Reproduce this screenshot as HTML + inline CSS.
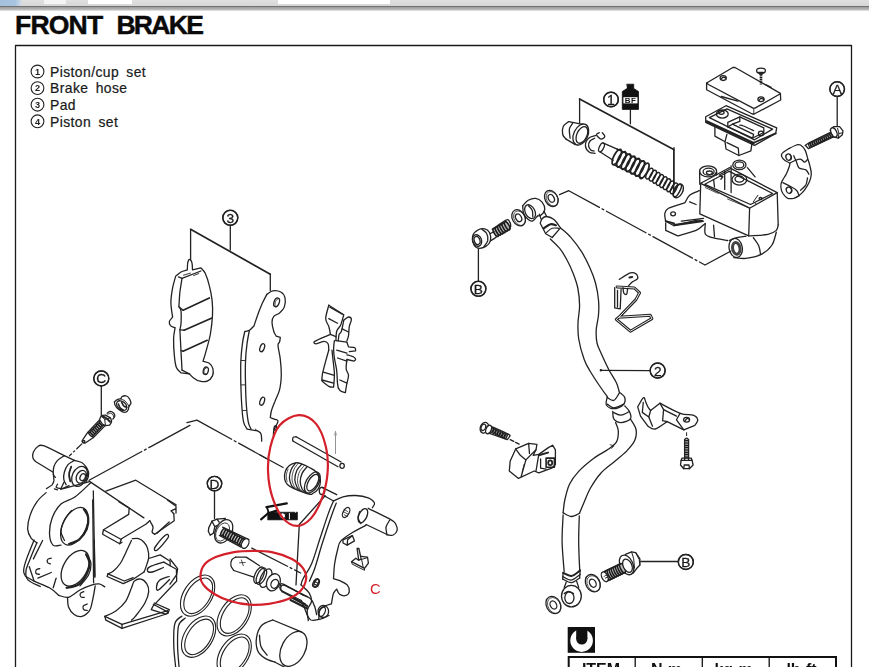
<!DOCTYPE html>
<html lang="en"><head><meta charset="utf-8"><title>FRONT BRAKE</title>
<style>
html,body{margin:0;padding:0;background:#fff;}
body{width:869px;height:667px;overflow:hidden;position:relative;font-family:"Liberation Sans",Arial,sans-serif;color:#111;}
#bar{position:absolute;left:0;top:0;width:869px;height:6px;background:linear-gradient(#e0e0e0,#d6d6d6);}
#bar i{position:absolute;top:0;height:4px;background:#f4f4f4;display:block}
#shadow{position:absolute;left:0;top:5.6px;width:869px;height:5.4px;background:linear-gradient(#6c6c6c 0,#757575 14%,#a0a0a0 30%,#b2b2b2 62%,#cdcdcd 86%,#fff 100%);}
#title{position:absolute;left:15px;top:10.2px;font-weight:bold;font-size:26.6px;line-height:30px;letter-spacing:-0.85px;word-spacing:7.5px;color:#0a0a0a;-webkit-text-stroke:0.45px #0a0a0a;white-space:nowrap;transform-origin:0 0;}
#title span{letter-spacing:-1.75px}
#legend{position:absolute;left:50px;top:63.8px;font-size:13.9px;line-height:16.6px;letter-spacing:0.42px;word-spacing:3px;color:#1a1a1a;white-space:nowrap;-webkit-text-stroke:0.22px #1a1a1a;}
#legend div{height:16.6px}
svg{position:absolute;left:0;top:0;filter:blur(0.3px);}
svg text{font-family:"Liberation Sans",Arial,sans-serif;}
</style></head><body>
<div id="bar"><i style="left:0;width:22px;height:6px;background:linear-gradient(90deg,#a5c0dc 0,#a9c4df 70%,#d5dde6 100%)"></i><i style="left:44px;width:22px"></i><i style="left:88px;width:44px;background:#fff"></i><i style="left:278px;width:112px;background:#fff"></i></div>
<div id="shadow"></div>
<div id="title">FRONT <span>BRAKE</span></div>
<div id="legend"><div>Piston/cup set</div><div>Brake hose</div><div>Pad</div><div>Piston set</div></div>
<svg width="869" height="667" viewBox="0 0 869 667" fill="none" stroke="#222" stroke-width="1.3" stroke-linecap="round" stroke-linejoin="round">
<!-- 00_frame.py -->
<path d="M15.5 667L15.5 45.5L851.5 45.5L851.5 667" stroke-width="1.3" stroke="#1a1a1a"/>
<circle cx="37.5" cy="71.5" r="6.4" stroke-width="1.1"/>
<text x="37.5" y="74.8" font-size="9.2" text-anchor="middle" font-weight="bold" fill="#222" stroke="none">1</text>
<circle cx="37.5" cy="88.1" r="6.4" stroke-width="1.1"/>
<text x="37.5" y="91.4" font-size="9.2" text-anchor="middle" font-weight="bold" fill="#222" stroke="none">2</text>
<circle cx="37.5" cy="104.7" r="6.4" stroke-width="1.1"/>
<text x="37.5" y="108" font-size="9.2" text-anchor="middle" font-weight="bold" fill="#222" stroke="none">3</text>
<circle cx="37.5" cy="121.3" r="6.4" stroke-width="1.1"/>
<text x="37.5" y="124.6" font-size="9.2" text-anchor="middle" font-weight="bold" fill="#222" stroke="none">4</text>
<!-- 10_pads.py -->
<circle cx="230.3" cy="217.8" r="7.6" fill="#fff"/>
<text x="230.3" y="222.7" font-size="13.7" text-anchor="middle" fill="#1a1a1a" stroke="#1a1a1a" stroke-width="0.3">3</text>
<circle cx="230.3" cy="217.8" r="7.4"/>
<path d="M230.3 225.5L230.3 250.1"/>
<path d="M190.6 259.6L190.6 229.3M270.3 274.2L270.3 290.6"/>
<path d="M190.6 229.3L270.3 274.2" stroke-width="1.7"/>
<path d="M175.7 276.2C176.6 275.5 179.1 273.1 181 272C182.9 271 186.2 270.3 187.3 269.9C187.4 268.8 187.4 264.8 187.7 263C188.1 261.3 188.7 259.5 189.4 259.4C190.1 259.4 191.4 260.8 191.9 262.6C192.4 264.3 192.4 268.7 192.5 269.9L200.9 267.8C201.6 268.7 203.7 270.1 205.1 273.1C206.5 276.1 208.2 281.1 209.3 285.7C210.5 290.2 211.5 295.5 212.1 300.4C212.6 305.3 212.8 309.5 212.5 315.1C212.2 320.7 211.4 328 210.4 334C209.3 339.9 207.4 346.2 206.2 350.7C205 355.3 203.6 359.5 203 361.2C204.1 361.6 207.7 362.1 209.3 363.3C211 364.6 212.4 366.5 212.9 368.6C213.4 370.7 213.4 373.8 212.5 375.9C211.5 378 209.3 380.3 207.2 381.2C205.1 382.1 202.2 381.7 199.9 381.2C197.6 380.7 195.3 379.3 193.6 378C191.8 376.8 190.1 374.5 189.4 373.8L181 372.8C180.2 371.9 177.5 370.5 176.4 367.5C175.3 364.6 174.7 359.8 174.3 354.9C173.8 350 173.5 342.7 173.6 338.2C173.8 333.6 174.9 329.4 175.1 327.7C174.3 327.3 171.4 326.6 170.5 325.6C169.6 324.5 169.1 322.8 169.4 321.4C169.8 320 172.1 317.9 172.6 317.2C172.3 314.7 170.9 307.4 170.9 302.5C170.9 297.6 171.8 292.2 172.6 287.8C173.4 283.4 175.2 278.2 175.7 276.2"/>
<path d="M182 278.3C181.7 280.6 180.5 287.3 179.9 292C179.4 296.7 179.1 304.2 178.9 306.7C179.2 307.4 180.6 308.1 181 310.9C181.3 313.7 181.2 320.3 181 323.5C180.8 326.6 180.1 328.7 179.9 329.8C180.1 333.3 180.6 344 181 350.7C181.3 357.5 181.9 366.8 182 370.1"/>
<path d="M182 278.3L200.9 271"/>
<path d="M178.5 276.9L182 278.3"/>
<path d="M183.5 275.2L190.4 273.1M193.6 275.6L198.8 273.5" stroke-width="0.9"/>
<path d="M183.1 310.2L209.3 297.9" stroke-width="1.7"/>
<path d="M184.1 330.2L211.4 318.2" stroke-width="1.7"/>
<path d="M183.1 351.2L207.2 340.3" stroke-width="1.7"/>
<path d="M178.9 306.7L183.1 310.2M179.9 329.8L184.1 330.2M181 350.7L183.1 351.2"/>
<path d="M182 370.1L189.4 373.8"/>
<ellipse cx="205.8" cy="370.7" rx="2.5" ry="3.8" transform="rotate(15 205.8 370.7)"/>
<path d="M207.2 367.5C206.8 367.8 205 368.3 204.5 369.2C204 370.1 203.7 371.9 204.1 372.8C204.4 373.6 206.2 374 206.6 374.3" stroke-width="0.9"/>
<path d="M266.9 294.3C267.8 293.7 270.3 291.2 272.7 290.8C275 290.4 278.7 290.8 280.8 292C282.9 293.1 284.4 295.3 285 297.8C285.6 300.3 285.2 304.6 284.3 307.1C283.4 309.6 281.4 311.3 279.6 312.9C277.9 314.4 275.1 314.8 273.8 316.4C272.6 317.9 272 319.7 272 322.2C272 324.7 273.1 329.2 273.8 331.5C274.5 333.8 275.8 335.3 276.2 336.1L280.3 337.3C280.2 338.1 280 340.6 279.6 341.9C279.3 343.3 277.9 342.5 278 345.4C278.1 348.3 279.8 354.3 280.3 359.4C280.9 364.4 281.4 370.6 281.3 375.6C281.1 380.7 280.7 385.3 279.6 389.6C278.6 393.8 276.3 397.7 275 401.2C273.6 404.7 272.3 407.8 271.5 410.5C270.7 413.2 270.5 416.3 270.3 417.5C271.1 417.8 273.7 418.7 275 419.3C276.3 419.9 277.8 419.9 278 420.9C278.2 422 276.9 424 276.2 425.6C275.5 427.1 274.3 428.3 273.8 430.2C273.4 432.2 273.4 436 273.4 437.2"/>
<path d="M266.9 294.3C266.1 295.8 263.8 300.1 262.2 303.6C260.7 307.1 258.9 311.5 257.6 315.2C256.2 318.9 254.7 323.9 254.1 325.7C253.3 326.4 251 329.3 249.4 330.3C247.9 331.3 245.6 331.3 244.8 331.5C244.4 333.4 243.1 338.1 242.5 343.1C241.8 348.1 241.1 355.1 240.8 361.7C240.6 368.3 240.7 375.2 240.8 382.6C241 390 241.3 399.3 241.8 405.8C242.2 412.4 242.7 418.2 243.6 422.1C244.5 426 246.5 427.9 247.1 429.1L257.6 430.9C258.1 431.4 260.4 432 261 433.7C261.7 435.4 261.6 439.9 261.7 441.2"/>
<path d="M249.4 330.3C249 332.4 247.8 337.9 247.1 343.1C246.4 348.3 245.7 355.1 245.5 361.7C245.2 368.3 245.3 375.2 245.5 382.6C245.6 390 245.9 399.3 246.4 405.8C246.9 412.4 247.5 418.2 248.3 422.1C249 426 250.6 427.9 251.1 429.1"/>
<path d="M241.3 360.5L245.5 360.5M241.3 384.9L245.5 384.9M242.5 410.5L246.4 410.5" stroke-width="0.9"/>
<ellipse cx="276.6" cy="302.4" rx="2.6" ry="4.6" transform="rotate(20 276.6 302.4)"/>
<path d="M278 298.9C277.5 299.4 275.7 300.5 275.2 301.7C274.8 303 275.2 305.6 275.2 306.4" stroke-width="0.9"/>
<ellipse cx="262.2" cy="347.7" rx="2.1" ry="4.2" transform="rotate(20 262.2 347.7)"/>
<ellipse cx="262.2" cy="401.2" rx="2.1" ry="4.2" transform="rotate(20 262.2 401.2)"/>
<ellipse cx="275.2" cy="427.9" rx="1.2" ry="2.3" transform="rotate(15 275.2 427.9)"/>
<path d="M257.6 430.9L255.2 429.1" stroke-width="0.9"/>
<path d="M328.8 305.2L343.8 314.7C343.3 316.4 341.8 322.2 340.7 324.9C339.5 327.7 337.5 328.6 336.7 331.2C335.9 333.8 336.1 339.1 335.9 340.7"/>
<path d="M328.8 305.2C328.3 307.5 325.7 315.1 325.7 318.6C325.7 322.2 328.1 323.9 328.8 326.5C329.6 329.1 330.2 333 330.4 334.4"/>
<path d="M328.8 318.6L337.5 323.3"/>
<path d="M329.9 307.3L342.2 314.2"/>
<path d="M343.8 320.2C344.6 319.7 347.3 317.2 348.5 317C349.8 316.9 351.2 317.8 351.4 319.4C351.5 321 349.8 323.7 349.3 326.5C348.8 329.2 348.9 333.6 348.5 335.9C348.1 338.3 347.2 339.9 346.9 340.7"/>
<path d="M343.8 320.2C343.4 322 342.2 328.8 341.4 331.2C340.7 333.6 339.6 332.8 339.1 334.4C338.6 335.9 338.4 339.6 338.3 340.7"/>
<path d="M342.2 328.8L348.5 332"/>
<path d="M330.4 334.4C329.5 334.7 327.3 335.7 324.9 336.7C322.5 337.8 318.1 339.7 316.3 340.7C314.4 341.6 313.9 341.7 313.9 342.2C313.9 342.8 314.5 343.9 316.3 343.8C318 343.7 322.2 341.4 324.1 341.4C326.1 341.4 327.3 342.4 328.1 343.8C328.8 345.2 328.7 349 328.8 350.1"/>
<path d="M346.9 342.2L348.5 346.9C349.6 347.1 353.6 347.1 354.8 347.7C356 348.4 355.5 350.4 355.6 350.9L349.3 351.7"/>
<path d="M346.9 354.8C348.1 355.2 352.6 356.4 354 357.2C355.5 358 355.6 358.9 355.6 359.5C355.6 360.2 354.3 360.9 354 361.1L346.9 359.5"/>
<path d="M334.4 340.7C334.2 342 333.6 345.6 333.6 348.5C333.6 351.4 333.8 354.3 334.4 358C334.9 361.6 336.2 366.4 336.7 370.6C337.2 374.8 337.2 380.3 337.5 383.2C337.8 386 338.2 387.1 338.3 387.9"/>
<path d="M328.8 350.1C328.3 351.9 326.7 357.2 325.7 361.1C324.6 365.1 323.2 370.4 322.5 373.7C321.9 377 321.9 379.6 321.8 380.8C322.9 381.7 326.9 385.3 328.8 386.3C330.8 387.4 332.8 387 333.6 387.1C333.7 384.9 334.5 378.6 334.4 373.7C334.2 368.9 333.2 361.9 332.8 358C332.4 354 332.1 351.4 332 350.1"/>
<path d="M346.9 359.5C346.8 361.1 345.9 366.4 346.2 369C346.4 371.6 348.4 372.9 348.5 375.3C348.7 377.6 347.5 380.3 346.9 383.2C346.4 386 345.6 391 345.4 392.6C344.6 392.3 341.8 391.8 340.7 391C339.5 390.2 338.7 388.4 338.3 387.9"/>
<path d="M323.3 372.1L334.4 375.3"/>
<path d="M322.1 380L333.6 383.2"/>
<path d="M337.5 358L346.9 361.1"/>
<path d="M336.7 350.1L346.9 353.2"/>
<path d="M335.9 340.7L346.9 342.2"/>
<path d="M330.4 334.4L335.9 336.7"/>
<path d="M339.9 380L346.9 383.2"/>
<!-- 20_caliper.py -->
<circle cx="101.3" cy="378.4" r="7.6" fill="#fff"/>
<text x="101.3" y="383.4" font-size="13.7" text-anchor="middle" fill="#1a1a1a" stroke="#1a1a1a" stroke-width="0.3">C</text>
<circle cx="101.3" cy="378.4" r="7.4"/>
<path d="M101.3 386.2L101.3 415.3"/>
<path d="M90.1 435.3L102.3 422.6" stroke="#555" stroke-width="5.2" stroke-linecap="butt"/>
<ellipse cx="90.9" cy="434.5" rx="1.1" ry="2.8" fill="#bbb" stroke="#1a1a1a" stroke-width="1.3" transform="rotate(-46.3 90.9 434.5)"/>
<ellipse cx="92.4" cy="432.9" rx="1.1" ry="2.8" fill="#bbb" stroke="#1a1a1a" stroke-width="1.3" transform="rotate(-46.3 92.4 432.9)"/>
<ellipse cx="93.9" cy="431.3" rx="1.1" ry="2.8" fill="#bbb" stroke="#1a1a1a" stroke-width="1.3" transform="rotate(-46.3 93.9 431.3)"/>
<ellipse cx="95.5" cy="429.8" rx="1.1" ry="2.8" fill="#bbb" stroke="#1a1a1a" stroke-width="1.3" transform="rotate(-46.3 95.5 429.8)"/>
<ellipse cx="97" cy="428.2" rx="1.1" ry="2.8" fill="#bbb" stroke="#1a1a1a" stroke-width="1.3" transform="rotate(-46.3 97 428.2)"/>
<ellipse cx="98.5" cy="426.6" rx="1.1" ry="2.8" fill="#bbb" stroke="#1a1a1a" stroke-width="1.3" transform="rotate(-46.3 98.5 426.6)"/>
<ellipse cx="100" cy="425" rx="1.1" ry="2.8" fill="#bbb" stroke="#1a1a1a" stroke-width="1.3" transform="rotate(-46.3 100 425)"/>
<ellipse cx="101.5" cy="423.4" rx="1.1" ry="2.8" fill="#bbb" stroke="#1a1a1a" stroke-width="1.3" transform="rotate(-46.3 101.5 423.4)"/>
<path d="M87.7 432.5L99.5 419.9M93.4 437.5L105.4 425.4"/>
<path d="M87.7 432.5C86.8 433.8 83.4 438.6 82.5 440.2C81.5 441.7 82 441.3 82.2 441.8C82.4 442.3 82.9 442.8 83.5 443C84.1 443.2 85.3 442.9 85.7 442.8L93.4 437.5"/>
<ellipse cx="83.8" cy="441.5" rx="1.1" ry="1.1"/>
<path d="M99.5 419.5C99.8 418.9 100.5 416.6 101.5 415.9C102.5 415.1 104.9 415.2 105.5 415.1L110.4 417.9C110.6 418.5 111.7 420.3 111.6 421.6C111.5 422.8 109.9 424.6 109.6 425.2L105.5 425.6L102.3 424Z" fill="#fff"/>
<path d="M101.5 415.9L104.7 419.5L105.5 425.6M104.7 419.5L110.4 417.9" stroke-width="1"/>
<path d="M102.3 416.3C103 416.6 105.1 417.4 106.3 418.3C107.6 419.2 109.4 421.2 110 421.8" stroke-width="2"/>
<path d="M107.1 413.2C107.6 412.9 108.9 411.5 110 411.4C111.1 411.4 112.8 412.2 113.6 413C114.4 413.9 115 415.3 114.8 416.3C114.7 417.3 113.1 418.6 112.8 419.1" fill="#fff"/>
<path d="M107.8 414.3C108.2 414.1 109.5 413.1 110.4 413.2C111.2 413.3 112.4 414 113 414.7C113.5 415.3 113.5 416.7 113.6 417.1" stroke-width="0.9"/>
<path d="M114.4 401.7C114.9 401.4 116.2 400.2 117.3 399.7C118.3 399.2 120.3 399 120.9 398.9C121.1 398.5 121.2 396.9 122.1 396.5C123.1 396 125.3 395.6 126.6 396C127.9 396.5 129.1 398.1 129.8 399.3C130.6 400.5 130.8 402.7 131 403.3C130.7 403.9 129.5 405.5 129 406.6C128.5 407.7 128.7 408.9 128.2 409.8C127.7 410.8 126.8 412 125.8 412.2C124.7 412.5 123.2 412.2 121.7 411.4C120.2 410.7 118 408.9 116.9 407.8C115.7 406.6 115.2 405.1 114.8 404.5Z"/>
<ellipse cx="121.7" cy="405.6" rx="4" ry="5.8" transform="rotate(-50 121.7 405.6)"/>
<path d="M118.5 404.1C118.7 404.8 119.3 406.8 120.1 407.8C120.9 408.8 122.8 409.8 123.3 410.2" stroke-width="1.6"/>
<path d="M121.7 402.5C122.1 403.1 122.9 405 123.7 405.8C124.6 406.6 126.1 407.1 126.6 407.4" stroke-width="1.6"/>
<path d="M120.9 398.9C121.6 399.2 123.7 399.9 125 400.9C126.2 401.9 127.5 404 128.2 405C128.9 405.9 128.9 406.3 129 406.6" stroke-width="0.9"/>
<path d="M81.8 443.9L69.4 455.9" stroke-dasharray="7 3 1.5 3"/>
<path d="M64.4 455.7C60.9 454.1 47.8 447.2 43.4 445.7C38.9 444.3 39.3 445.7 37.6 446.8C35.9 447.8 34.2 450.2 33.4 452C32.6 453.9 32.5 456.2 32.9 457.8C33.2 459.4 35.1 460.9 35.5 461.5L52.8 472"/>
<path d="M64.4 455.7C63.2 456.5 59.3 458.6 57.5 460.4C55.8 462.3 54.6 464.5 53.9 466.7C53.2 469 53.1 472.3 53.3 474.1C53.6 475.9 55.1 476.9 55.4 477.4"/>
<path d="M64.4 455.7L74.3 460.4"/>
<path d="M74.3 460.4C73.3 461.1 69.7 462.7 68 464.6C66.4 466.6 65.1 469.5 64.4 472C63.7 474.4 63.5 477.2 63.8 479.3C64.1 481.5 65.8 483.9 66.1 484.8"/>
<path d="M74.3 460.4C75.5 460.8 79.7 461.5 81.7 462.5C83.6 463.6 84.7 465.2 85.9 466.7C87 468.3 88.1 470.2 88.5 472C88.9 473.7 88.6 475.6 88.2 477.2C87.8 478.8 86.4 480.9 86.1 481.6"/>
<ellipse cx="79.6" cy="476.4" rx="7.3" ry="10.5" transform="rotate(25 79.6 476.4)"/>
<ellipse cx="81.3" cy="476.8" rx="4.8" ry="6.7" transform="rotate(25 81.3 476.8)"/>
<ellipse cx="82.7" cy="477.2" rx="2.5" ry="3.6" transform="rotate(25 82.7 477.2)"/>
<path d="M71.2 466.7C70.8 468 69.2 471.6 69.1 474.1C68.9 476.5 70.1 480.2 70.3 481.4" stroke-width="1.8"/>
<path d="M53.3 474.1C53.4 475.1 54 478.6 53.9 480.4C53.7 482.1 53.5 483.2 52.3 484.6C51.1 485.9 47.5 487.9 46.5 488.6"/>
<path d="M63.8 482.5L60.7 489.3L69.1 485.6"/>
<path d="M54.4 488.8L57.5 489.8"/>
<path d="M89.1 480.2L150.8 446.6L189.9 425.4" stroke-dasharray="60 3 2 3"/>
<path d="M46.1 492.6C44.5 494.1 39.5 498 36.9 501.8C34.2 505.6 31.5 511 30 515.6C28.4 520.2 27.5 525.7 27.7 529.4C27.9 533.2 29.6 535.9 31.1 538.2C32.6 540.4 35.9 542 36.9 542.8"/>
<path d="M57.6 484.1C57.4 484.7 55.5 486.8 56.4 487.5C57.4 488.3 62.2 488.5 63.3 488.7L88.6 481.8"/>
<path d="M90.9 482.5C88.3 484.9 80.3 493.1 75.3 496.7C70.3 500.3 64.9 500.7 61 504.1C57.2 507.6 54.2 512.5 52.3 517.5C50.4 522.4 49.4 529 49.5 533.6C49.6 538.2 51.1 543.2 53 545.1C54.9 547 59.7 545.1 61 545.1"/>
<path d="M36.9 542.8C35.9 545.1 32.9 552 31.1 556.6C29.3 561.2 26.6 566.6 26 570.4C25.5 574.2 25.3 576.9 27.7 579.6C30 582.3 38.2 585.4 40.3 586.5"/>
<path d="M42.6 540.5L33.4 558.9"/>
<path d="M93.3 491L94.9 577.3"/>
<ellipse cx="74.4" cy="526.2" rx="11.5" ry="20.3" transform="rotate(27 74.4 526.2)"/>
<path d="M84 509.4C84.7 510.7 87.7 514.2 88.2 517.5C88.6 520.7 88.3 525.3 86.8 529C85.3 532.6 82.4 536.8 79.4 539.3C76.5 541.8 70.8 543.2 69.1 543.9" stroke-width="2.2"/>
<path d="M64.5 540.5C63.9 538.9 61 534.7 61 531.3C61 527.8 62.8 523.2 64.5 519.8C66.2 516.3 70.2 512.1 71.4 510.6"/>
<path d="M89.1 481.1L143.9 517.9"/>
<path d="M105.9 491.2L135.8 480.2L176.1 504.8"/>
<path d="M118.8 501.8L129.2 508.1L128.7 514.4L103.5 529.7L102.6 534.2L119.7 543.7L121.5 538.7L145.8 524.3L149.7 520.7"/>
<path d="M103.5 529.7L120.9 539.2"/>
<path d="M119.7 543.7L122 542.3"/>
<path d="M167.4 500L176 506.3L176 513M176 508.6L171 510.8L173.8 513.7"/>
<path d="M173.8 513.7L174.2 520.7L154.8 534.2"/>
<path d="M154.8 534.2C154.3 533.8 152.4 533.2 152.1 532C151.8 530.8 153.4 528.9 153 527C152.6 525.1 150.3 521.7 149.7 520.7"/>
<path d="M169.2 521.9L156.9 533.3"/>
<path d="M165.6 535.1C163.6 536.7 158.4 542.6 156.6 545C154.7 547.4 154.2 548.7 154.4 549.5C154.6 550.3 155.5 551.6 157.6 549.8C159.8 548 165.6 541.1 167.4 538.7C169.2 536.3 168.7 535.9 168.4 535.3C168.1 534.7 167.5 533.5 165.6 535.1Z"/>
<path d="M132.3 538.7C133.3 538.7 136.6 538.1 138.6 538.7C140.5 539.3 142.5 540.6 144 542.3C145.5 543.9 146.8 546 147.6 548.6C148.4 551.1 148.9 554.6 148.7 557.6C148.4 560.6 146.9 564.2 146.1 566.6C145.4 569 144.3 571.1 144 572"/>
<path d="M131.4 540.5C130.5 542.4 127.8 548.4 126 552.2C124.2 555.9 122.7 559.8 120.6 563C118.5 566.1 115.5 569.3 113.4 571.1C111.3 572.9 108.9 573.3 108 573.8"/>
<path d="M148.7 558.5L160.2 554.9L170.1 561.2L170.1 565.7L176.4 569.3L176.7 581L153 606.1L151.2 609.7L165.6 614.2L168.4 612.4L153.3 604.3"/>
<path d="M163.8 562.1C161.4 562.9 152.4 565.4 149.7 566.9C147 568.4 147.2 570.2 147.6 571.1C148 571.9 149.4 572.6 152.1 572C154.7 571.4 161.5 568.2 163.4 567.5"/>
<path d="M163.8 562.1L170.1 565.7"/>
<path d="M169.2 576.5C167.5 577.1 161.4 578.8 159.3 580.4C157.2 582.1 156.7 584.8 156.6 586.4C156.4 587.9 156.2 591.1 158.4 590C160.5 588.8 167.7 581.3 169.5 579.5"/>
<path d="M108 573.8L107.1 576.5L123.3 583.7L133.2 579.2L144 572"/>
<path d="M108 573.8L124.2 581L133.2 577.7"/>
<path d="M92.7 500L93.6 582.8"/>
<path d="M34.1 540C32.8 543.2 28.2 554 26.5 559.1C24.7 564.2 23.8 567.7 23.6 570.6C23.4 573.4 25.2 575.3 25.5 576.3C26.9 577.1 30.1 579.2 34.1 581.1C38.1 583 45.2 585.4 49.4 587.8C53.5 590.1 57.3 594.1 58.9 595.4"/>
<path d="M58.9 595.4C60.5 595.7 65 598.2 68.5 597.3C72 596.4 76.1 592.1 79.9 590C83.8 588 88.2 586.1 91.4 585.1C94.6 584.1 96.8 583.6 99.1 583.9C101.3 584.2 103.8 586.3 104.8 586.8"/>
<ellipse cx="75.2" cy="568.3" rx="11.8" ry="19.5" transform="rotate(30 75.2 568.3)"/>
<path d="M86.1 554.3C86.6 555.8 89.4 559.6 89.5 562.9C89.6 566.3 88.5 570.7 86.6 574.4C84.7 578 81.4 582.7 78 584.9C74.7 587.1 68.5 587.3 66.6 587.8" stroke-width="2.2"/>
<path d="M88 556.2C88.5 557.5 91 560.7 91 563.9C91.1 567.1 90.2 571.7 88.4 575.3C86.5 579 81.3 584.1 79.9 585.8"/>
<path d="M94.3 540L94.8 576.3"/>
<path d="M67.5 597.3C67.7 598.9 67.4 604 68.5 606.9C69.6 609.7 72 612.9 74.2 614.5C76.4 616.1 79.3 617 81.9 616.4C84.4 615.8 87.7 613.2 89.5 610.7C91.3 608.1 91.4 605.3 92.4 601.1C93.3 597 94.8 588.4 95.2 585.8"/>
<path d="M51.3 558.1C50.7 558.3 48.5 558.4 47.9 559.1C47.2 559.8 47.1 561.7 47.5 562.5C47.9 563.3 49.9 563.7 50.3 563.9"/>
<path d="M39.8 568.7C39.3 568.8 37 568.8 36.4 569.6C35.8 570.4 35.5 572.6 36 573.4C36.5 574.2 38.9 574.2 39.5 574.4"/>
<path d="M83.8 591.6C83.2 591.9 80.8 592.6 80.3 593.5C79.9 594.4 80.3 596.3 80.9 596.9C81.5 597.6 83.6 597.2 84.2 597.3"/>
<path d="M87.2 604C86.6 604.3 84 604.9 83.4 605.9C82.8 606.9 83.1 609 83.8 609.7C84.4 610.5 86.6 610.2 87.2 610.3"/>
<path d="M34.1 581.1L29.3 566.7"/>
<path d="M37.9 578.2L51.3 572.5"/>
<path d="M53.2 587.8L56.1 578.2"/>
<path d="M104.8 616.4C106.7 615.5 112.7 613.2 116.2 610.7C119.7 608.1 123.2 604.9 125.8 601.1C128.3 597.3 130.1 591.1 131.5 587.8C133 584.4 132.8 582.5 134.4 581.1C136 579.6 139 578.7 141.1 579.2C143.1 579.6 145.5 581.9 146.8 583.9C148.1 586 149 588.4 148.7 591.6C148.4 594.8 147.1 598.9 144.9 603C142.7 607.2 137.6 613.5 135.3 616.4C133.1 619.3 132.2 619.6 131.5 620.2"/>
<path d="M104.8 616.4L105.9 620.2L122 628.3L167.8 613.5L169.3 609.7L154.4 603"/>
<path d="M104.8 616.4L122 624.4L167.8 610.7"/>
<path d="M122 624.4L122 628.3"/>
<!-- 30_center.py -->
<circle cx="214.5" cy="483.6" r="7.3" fill="#fff"/>
<text x="214.5" y="488.5" font-size="13.7" text-anchor="middle" fill="#1a1a1a" stroke="#1a1a1a" stroke-width="0.3">D</text>
<circle cx="214.5" cy="483.6" r="7.2"/>
<path d="M214.5 491L214.5 518.6"/>
<path d="M208.8 527.6L212 521.2L217.1 519.1L225.4 518.4L222.6 523L214.8 526.7L213.4 533.1L210.2 535.2L208.3 531.3Z" fill="#fff"/>
<path d="M212 521.2L214.8 526.7M217.1 519.1L219.1 522.1"/>
<ellipse cx="223.7" cy="531.3" rx="8.1" ry="12.4" fill="#fff" transform="rotate(27 223.7 531.3)"/>
<ellipse cx="222.6" cy="532" rx="6.1" ry="9.7" stroke-width="0.8" transform="rotate(27 222.6 532)"/>
<path d="M221.9 531.5L243.3 542.6" stroke="#555" stroke-width="7.2" stroke-linecap="butt"/>
<ellipse cx="223.1" cy="532.1" rx="1.6" ry="3.9" fill="#bbb" stroke="#1a1a1a" stroke-width="1.5" transform="rotate(27.4 223.1 532.1)"/>
<ellipse cx="225.5" cy="533.3" rx="1.6" ry="3.9" fill="#bbb" stroke="#1a1a1a" stroke-width="1.5" transform="rotate(27.4 225.5 533.3)"/>
<ellipse cx="227.8" cy="534.6" rx="1.6" ry="3.9" fill="#bbb" stroke="#1a1a1a" stroke-width="1.5" transform="rotate(27.4 227.8 534.6)"/>
<ellipse cx="230.2" cy="535.8" rx="1.6" ry="3.9" fill="#bbb" stroke="#1a1a1a" stroke-width="1.5" transform="rotate(27.4 230.2 535.8)"/>
<ellipse cx="232.6" cy="537.1" rx="1.6" ry="3.9" fill="#bbb" stroke="#1a1a1a" stroke-width="1.5" transform="rotate(27.4 232.6 537.1)"/>
<ellipse cx="235" cy="538.3" rx="1.6" ry="3.9" fill="#bbb" stroke="#1a1a1a" stroke-width="1.5" transform="rotate(27.4 235 538.3)"/>
<ellipse cx="237.4" cy="539.5" rx="1.6" ry="3.9" fill="#bbb" stroke="#1a1a1a" stroke-width="1.5" transform="rotate(27.4 237.4 539.5)"/>
<ellipse cx="239.8" cy="540.8" rx="1.6" ry="3.9" fill="#bbb" stroke="#1a1a1a" stroke-width="1.5" transform="rotate(27.4 239.8 540.8)"/>
<ellipse cx="242.1" cy="542" rx="1.6" ry="3.9" fill="#bbb" stroke="#1a1a1a" stroke-width="1.5" transform="rotate(27.4 242.1 542)"/>
<path d="M222.6 527.2L248.9 539.6M219.4 535.4L241 547.1"/>
<ellipse cx="245.2" cy="543.5" rx="3.3" ry="5.2" fill="#fff" transform="rotate(27 245.2 543.5)"/>
<path d="M251.8 548.1L300.6 573" stroke-dasharray="40 3 2 3"/>
<path d="M260.1 455L283.1 467.5" stroke-dasharray="40 3 2 3"/>
<path d="M289.4 465.6C291.1 464.3 293.6 463.3 295.5 462.9C297.4 462.6 297.7 462.4 300.9 463.6C304 464.9 311.3 468.3 314.4 470.4C317.4 472.4 318.1 473.8 319.1 475.8C320.1 477.7 320.6 479.7 320.4 481.8C320.3 484 319.7 486.7 318.4 488.6C317.2 490.5 314.6 492.4 313 493.3C311.4 494.2 312.1 494.8 309 494C305.8 493.2 297.7 490.1 294.1 488.6C290.5 487 289 486.1 287.4 484.5C285.8 483 285 481.4 284.7 479.1C284.3 476.9 284.6 473.3 285.4 471C286.1 468.8 287.7 467 289.4 465.6Z" fill="#fff"/>
<path d="M295.5 463.2C294.8 464.2 292.4 466.6 291.4 469C290.4 471.4 289.4 475.1 289.4 477.8C289.4 480.5 290.5 483.4 291.4 485.2C292.3 487 294.2 488 294.8 488.6"/>
<path d="M298.2 463.5C297.5 464.5 294.9 467.1 293.9 469.7C292.8 472.2 291.9 476.1 292 478.9C292 481.6 293.2 484.3 294.1 486.1C295.1 487.9 296.9 489.1 297.5 489.7" stroke-width="0.8"/>
<path d="M301.6 464.3C300.8 465.3 298 467.8 296.8 470.4C295.7 472.9 294.8 477 294.8 479.8C294.9 482.6 296.2 485.4 297.1 487.2C298 489 299.7 490 300.2 490.6"/>
<path d="M304.3 465.6C303.5 466.6 300.7 469.2 299.5 471.7C298.4 474.2 297.5 478 297.5 480.7C297.5 483.5 298.7 486.5 299.5 488.3C300.4 490.1 302 491 302.5 491.5" stroke-width="0.8"/>
<path d="M306.9 467C306.2 468 303.4 470.6 302.2 473.1C301.1 475.5 300.2 479.1 300.2 481.8C300.2 484.5 301.4 487.5 302.2 489.3C303.1 491 304.7 491.8 305.2 492.4"/>
<ellipse cx="312.3" cy="482.5" rx="6.2" ry="11.6" transform="rotate(30 312.3 482.5)"/>
<ellipse cx="312.8" cy="482.6" rx="4.5" ry="9.2" transform="rotate(30 312.8 482.6)"/>
<path d="M288.1 469C287.8 470 286.5 472.9 286.3 475.1C286.1 477.2 287 480.7 287.1 481.8" stroke-width="0.8"/>
<path d="M266.5 507.1L286.7 503.4" stroke-width="2.4" stroke="#111"/>
<path d="M261.1 519.3L267.8 513.5L277.3 510.4" stroke-width="2.2" stroke="#111"/>
<path d="M266.9 507.1L268.5 512.2" stroke-width="1.8" stroke="#111"/>
<path d="M267.8 512.2L297.5 512.2L297.5 519.9L267.8 519.9Z" stroke-width="0.6" fill="#111" stroke="#111"/>
<ellipse cx="282.7" cy="515.8" rx="3" ry="3" stroke-width="1" fill="#fff" stroke="#111"/>
<path d="M289.4 513.5L289.4 518.9M295.5 510.2L295.5 512.2" stroke-width="1" stroke="#fff"/>
<path d="M296.1 436.8L341.1 462"/>
<path d="M293.3 441.2L338 466.7"/>
<path d="M296.1 436.8C295.6 436.9 293.8 436.6 293.3 437.2C292.7 437.7 292.6 439.6 292.6 440.3C292.6 441 293.2 441.1 293.3 441.2"/>
<ellipse cx="342.1" cy="465.8" rx="2.2" ry="2.5"/>
<path d="M335.5 431.5L335.5 453.5" stroke-width="0.8" stroke="#777"/>
<path d="M334.2 435.3L335.5 431.5L336.7 435.3" stroke-width="0.7" stroke="#999"/>
<path d="M186.9 422.7L196.9 420.1L268.7 459.8" stroke-dasharray="50 3 2 3"/>
<ellipse cx="322" cy="490.9" rx="2.7" ry="3.6"/>
<path d="M322 487.3L336.7 494.7"/>
<path d="M322 494.5L333.5 501"/>
<path d="M333.5 501C335.1 500.3 339.3 497.7 343 496.8C346.6 495.9 351.4 495.4 355.6 495.5C359.8 495.7 365 496.6 368.2 497.8C371.3 499.1 373.8 501.4 374.5 503.1C375.2 504.7 372.7 506.9 372.4 507.7"/>
<ellipse cx="362.9" cy="515.7" rx="4" ry="7.6" transform="rotate(25 362.9 515.7)"/>
<path d="M368.2 508.3C372 510.3 386.6 517.2 391.2 519.9C395.9 522.6 394.9 522.7 395.9 524.5C396.8 526.2 397.5 528.6 397.1 530.4C396.7 532.1 394.8 534.2 393.3 535C391.8 535.8 389 535 388.1 535L366.1 524.5"/>
<path d="M389.6 520.3C389 521.5 386.4 524.8 386 527.2C385.6 529.7 386.9 533.7 387 535"/>
<path d="M359.8 511.5C359.5 512.5 357.9 515.8 358.1 517.8C358.3 519.8 360.4 522.7 360.8 523.7"/>
<path d="M366.1 525.1C363.8 526.4 356.6 529.9 352.4 532.5C348.2 535.1 343.3 538.1 340.9 540.9C338.4 543.7 338.8 545.4 337.7 549.3C336.7 553.1 335.3 559.1 334.6 564C333.9 568.9 333.7 576.2 333.5 578.7C334.6 579 337.5 579.7 339.8 580.7C342.1 581.8 345.6 583.2 347.2 584.9C348.7 586.7 349.4 589.5 349.3 591.2C349.1 593 347.7 594.9 346.1 595.4C344.5 596 341.4 595.4 339.8 594.4C338.2 593.3 337.2 590 336.7 589.1C336.1 589.8 334.4 590.9 333.5 593.3C332.6 595.8 331.8 602.1 331.4 603.8C330.4 604.2 327.1 604.9 325.1 605.9C323.2 607 320.9 608 319.9 610.1C318.8 612.2 319 617.1 318.8 618.5"/>
<path d="M343 539.8L352.4 535.6L354.5 540.9L347.2 545.1L343 543Z"/>
<path d="M347.2 545.1L347.6 539.8L352.4 535.6"/>
<path d="M333.5 501C332.6 503.1 330.5 507.3 328.3 513.6C326 519.9 322.7 530.4 319.9 538.8C317.1 547.2 314.3 557.3 311.5 564C308.7 570.6 304.8 575.2 303.1 578.7C301.3 582.1 301.3 583.9 301 584.9"/>
<path d="M336.3 503.1C335.3 505.5 333.1 511.1 330.8 517.8C328.5 524.4 325.1 534.6 322.4 543C319.7 551.4 317 561.8 314.8 568.2C312.7 574.5 310.3 579 309.4 581.2"/>
<path d="M325.1 495.7L299.3 524.5L296 584.9"/>
<ellipse cx="346.1" cy="512.5" rx="2.9" ry="5.5" transform="rotate(30 346.1 512.5)"/>
<path d="M344 509.4L347.6 511.5M343.6 511.9L348.2 514.2M344.2 514.8L347.6 516.5" stroke-width="0.8"/>
<ellipse cx="315.7" cy="582.8" rx="2.3" ry="4.6" transform="rotate(30 315.7 582.8)"/>
<path d="M314 580.7L317.4 582.8M314 583.7L316.9 585.4" stroke-width="0.8"/>
<path d="M283.8 584.9L307.3 596.7"/>
<path d="M282.1 591.7L305.2 603.8"/>
<path d="M283.8 584.9C283.4 585.1 281.7 585.2 281.3 586C280.8 586.8 280.7 588.6 280.8 589.6C281 590.5 281.9 591.3 282.1 591.7"/>
<path d="M290.5 600.1L307.3 608.5" stroke-width="2.2"/>
<path d="M301 584.9C302.4 586.3 307.6 590.5 309.4 593.3C311.1 596.1 311.8 598.9 311.5 601.7C311.1 604.5 307.8 607 307.3 610.1C306.8 613.3 308.2 618.9 308.3 620.6"/>
<ellipse cx="322" cy="611.8" rx="2.9" ry="5.2" transform="rotate(25 322 611.8)"/>
<path d="M357.1 548.5L358.9 548.5L361.2 559.2L358.7 560.2Z"/>
<path d="M358.7 560.2L355.8 558.2L351.5 561.7L364.5 568.4L368.4 563.1L367.5 557.2L361.2 556.3"/>
<path d="M361.6 559.4L363.2 567.2M361.6 559.4L367.5 557.6" stroke-width="1"/>
<path d="M351.5 561.7L352.2 564.1L364.5 570.3L364.5 568.4" stroke-width="1"/>
<path d="M235.7 557.1C235.1 557.5 232.7 558.2 231.9 559.6C231.1 561 230.6 563.9 230.9 565.7C231.2 567.5 233.3 569.7 233.8 570.5"/>
<path d="M235.7 557.1L246.2 557.1L259.5 565.7"/>
<path d="M233.8 570.5L253.8 577.1"/>
<ellipse cx="259.1" cy="575.2" rx="4.2" ry="8.8" transform="rotate(25 259.1 575.2)"/>
<ellipse cx="265.8" cy="578.1" rx="5.1" ry="9.9" transform="rotate(25 265.8 578.1)"/>
<ellipse cx="261.4" cy="576.2" rx="4.2" ry="8.8" transform="rotate(25 261.4 576.2)"/>
<ellipse cx="273.4" cy="582.3" rx="6.5" ry="8.9" fill="#fff" transform="rotate(25 273.4 582.3)"/>
<ellipse cx="274.7" cy="583.8" rx="3.6" ry="4.6" transform="rotate(25 274.7 583.8)"/>
<path d="M241.4 560L243.3 565.7M239.5 562.8L245.2 562.5" stroke-width="0.8"/>
<path d="M303.3 595.2C300 593.4 287.1 585.8 283.3 584.2C279.5 582.6 281 584.9 280.4 585.7C279.9 586.5 279.7 588.2 280.1 589.1C280.4 590 282 590.7 282.3 591L301.4 600.5"/>
<path d="M291.9 597.5L307.1 605.9" stroke-width="2.2"/>
<path d="M303.3 595.2C304.6 595.9 309 597.1 310.9 599C312.8 600.9 313.8 604 314.7 606.6C315.7 609.2 316.3 613.3 316.6 614.6"/>
<ellipse cx="323.3" cy="611.4" rx="5.3" ry="6.1"/>
<path d="M307.1 614.6C307.7 615.5 308.7 619.2 310.9 620C313.1 620.7 317.4 620 320.4 619.2C323.4 618.4 327.6 616 329 615.4"/>
<path d="M301.4 600.5L307.1 614.6"/>
<ellipse cx="316.6" cy="583.4" rx="2.3" ry="4.2" transform="rotate(25 316.6 583.4)"/>
<path d="M314.7 581.9L318.5 583.4M314.3 584.2L318.1 586.1" stroke-width="0.8"/>
<ellipse cx="197.6" cy="595.6" rx="14.1" ry="22.8" stroke-width="1.1" transform="rotate(33 197.6 595.6)"/>
<ellipse cx="198.2" cy="595.8" rx="11.4" ry="19.8" stroke-width="1.1" transform="rotate(33 198.2 595.8)"/>
<ellipse cx="198.6" cy="636.7" rx="14.1" ry="22.8" stroke-width="1.1" transform="rotate(33 198.6 636.7)"/>
<ellipse cx="199.1" cy="636.9" rx="11.4" ry="19.8" stroke-width="1.1" transform="rotate(33 199.1 636.9)"/>
<ellipse cx="234.2" cy="615.4" rx="14.1" ry="22.8" stroke-width="1.1" transform="rotate(33 234.2 615.4)"/>
<ellipse cx="234.7" cy="615.6" rx="11.4" ry="19.8" stroke-width="1.1" transform="rotate(33 234.7 615.6)"/>
<ellipse cx="234.2" cy="654.6" rx="14.1" ry="22.8" stroke-width="1.1" transform="rotate(33 234.2 654.6)"/>
<ellipse cx="234.7" cy="654.8" rx="11.4" ry="19.8" stroke-width="1.1" transform="rotate(33 234.7 654.8)"/>
<path d="M272.8 620C271 620.9 264.5 622.4 261.8 625.3C259.1 628.2 257.3 632.9 256.6 637.1C255.9 641.3 256.2 646.9 257.6 650.4C259 654 262.3 656.5 265.2 658.4C268.1 660.4 273.5 661.6 275.1 662.2"/>
<ellipse cx="293.4" cy="648.9" rx="11.8" ry="18.7" transform="rotate(28 293.4 648.9)"/>
<path d="M272.8 620L301.4 631.8"/>
<path d="M275.1 662.2L286.1 668"/>
<path d="M259.5 635.2C259.7 637.1 259.7 643.3 261 646.6C262.3 650 266.1 653.8 267.1 655.2"/>
<path d="M170 559L177.6 568.6L176.7 574.7L170 584.2"/>
<path d="M181.8 616.2C180.6 617.4 176.1 618.7 174.8 623.8C173.4 628.9 173.6 639.3 173.8 646.6C174 653.9 175.4 664.1 175.7 667.6"/>
<path d="M185.2 618.1C184.1 619.3 179.8 620.9 178.6 625.7C177.3 630.4 177.5 639.6 177.6 646.6C177.7 653.6 178.9 664.1 179.1 667.6"/>
<path d="M298.6 415.1C304.7 414.9 311.4 418.3 315.9 423.6C320.5 429 324.1 439.1 326 447.2C328 455.4 328.2 464 327.6 472.4C327 480.8 325 490 322.2 497.6C319.5 505.2 315.4 513.3 311.2 518.1C307 522.8 301.8 525.9 297 525.9C292.3 525.9 287 522.8 282.9 518.1C278.8 513.3 275 505.2 272.5 497.6C270 490 268.4 480.8 268.1 472.4C267.7 464 268.3 455.1 270.3 447.2C272.2 439.4 275 430.5 279.7 425.2C284.5 419.8 292.6 415.4 298.6 415.1Z" stroke-width="2.2" stroke="#d4202a"/>
<path d="M200.5 576.2C200.6 572.8 201.7 567.9 204.3 564.8C206.8 561.6 210.9 559.2 215.7 557.1C220.5 555.1 226.5 553.4 232.8 552.4C239.2 551.3 247.1 550.9 253.8 550.9C260.4 550.9 266.5 551 272.8 552.4C279.2 553.7 286.8 556.3 291.9 559C296.9 561.7 300.9 565.2 303.3 568.6C305.7 571.9 306.6 575.3 306.1 579C305.7 582.8 303.4 587.7 300.4 591C297.4 594.4 293.3 596.9 288.1 599C282.8 601.2 275.4 602.8 269 603.8C262.7 604.7 256.3 605.2 250 604.7C243.6 604.3 237 603.2 230.9 601.3C224.9 599.5 218.4 596.5 213.8 593.7C209.2 590.9 205.5 587.7 203.3 584.7C201.1 581.8 200.3 579.5 200.5 576.2Z" stroke-width="2.2" stroke="#d4202a"/>
<text x="375.3" y="594.3" font-size="14.8" text-anchor="middle" font-weight="normal" fill="#d4202a" stroke="none">C</text>
<!-- 40_master.py -->
<circle cx="611" cy="99.5" r="7.3" fill="#fff"/>
<text x="611" y="104.7" font-size="14.2" text-anchor="middle" fill="#1a1a1a" stroke="#1a1a1a" stroke-width="0.3">1</text>
<circle cx="611" cy="99.5" r="7.3" stroke-width="1.5"/>
<path d="M627.1 84.2L633.7 84.2L633.7 88.4L638.5 91.5L638.5 109.4L622.3 109.4L622.3 91.5L627.1 88.4Z" stroke-width="0.8" fill="#111" stroke="#111"/>
<path d="M623.4 97.2L637.5 97.2L637.5 103.4L623.4 103.4Z" fill="#fff" stroke="none"/>
<text x="630.5" y="103.3" font-size="8" text-anchor="middle" font-weight="bold" fill="#111" stroke="none" letter-spacing="0.4">BF</text>
<path d="M630.4 109.4L630.4 123.8"/>
<path d="M579.6 122.8L579.6 98.9M673.7 149.6L673.7 192"/>
<path d="M579.6 98.9L673.7 149.6" stroke-width="1.7"/>
<path d="M568.8 121.6C567.9 122.4 564.3 124.1 563.3 126.2C562.3 128.4 562.3 132.4 562.7 134.5C563.2 136.7 565.5 138.3 566.1 139.1"/>
<path d="M568.8 121.6L582.7 124.4"/>
<path d="M566.1 139.1L575.3 144.6"/>
<ellipse cx="580.8" cy="134.5" rx="7" ry="11.1" transform="rotate(25 580.8 134.5)"/>
<ellipse cx="581.9" cy="134.9" rx="5" ry="8.9" transform="rotate(25 581.9 134.9)"/>
<path d="M572.5 123.4C572 124.4 569.8 126.5 569.4 129C569 131.4 570 136.7 570.1 138.2"/>
<path d="M595.9 135.4C594.7 135.9 590.3 136.5 588.6 138.2C586.8 139.9 585.3 143.3 585.4 145.6C585.5 147.9 587.5 150.7 589.1 152C590.7 153.3 594 153.1 595 153.3"/>
<path d="M594.6 138.2C593.9 138.7 591.1 139.7 590 141C589 142.3 588.4 144.4 588.6 145.9C588.7 147.5 590 149.3 591 150.2C591.9 151 593.6 150.9 594.1 151.1"/>
<path d="M599.3 132.7C598.8 133 596.2 133.8 596.5 134.9C596.8 135.9 599.7 138.9 601.1 139.1C602.5 139.4 604.6 137.4 604.8 136.3C605 135.3 602.6 133.3 602.2 132.7"/>
<path d="M602.9 142.8L617.7 149.3"/>
<path d="M600.2 152L613.1 160.3"/>
<ellipse cx="601.5" cy="147.4" rx="2.2" ry="4.8" transform="rotate(25 601.5 147.4)"/>
<ellipse cx="616.8" cy="157" rx="3.1" ry="8.5" stroke-width="1.8" transform="rotate(27 616.8 157)"/>
<ellipse cx="621.4" cy="159.3" rx="3.1" ry="8.5" stroke-width="1.8" transform="rotate(27 621.4 159.3)"/>
<ellipse cx="626" cy="161.6" rx="3.1" ry="8.5" stroke-width="1.8" transform="rotate(27 626 161.6)"/>
<ellipse cx="630.6" cy="163.9" rx="3.1" ry="8.5" stroke-width="1.8" transform="rotate(27 630.6 163.9)"/>
<ellipse cx="635.2" cy="166.2" rx="3.1" ry="8.5" stroke-width="1.8" transform="rotate(27 635.2 166.2)"/>
<ellipse cx="639.8" cy="168.5" rx="3.1" ry="8.5" stroke-width="1.8" transform="rotate(27 639.8 168.5)"/>
<ellipse cx="644.4" cy="170.8" rx="3.1" ry="8.5" stroke-width="1.8" transform="rotate(27 644.4 170.8)"/>
<path d="M616.8 148.9L645.4 162.5"/>
<path d="M614 164.9L641.7 177.8"/>
<ellipse cx="649.4" cy="173.6" rx="2.4" ry="5.9" stroke-width="1.5" transform="rotate(28 649.4 173.6)"/>
<ellipse cx="652.9" cy="175.7" rx="2.4" ry="5.9" stroke-width="1.5" transform="rotate(28 652.9 175.7)"/>
<ellipse cx="656.4" cy="177.8" rx="2.4" ry="5.9" stroke-width="1.5" transform="rotate(28 656.4 177.8)"/>
<ellipse cx="659.9" cy="180" rx="2.4" ry="5.9" stroke-width="1.5" transform="rotate(28 659.9 180)"/>
<ellipse cx="663.4" cy="182.1" rx="2.4" ry="5.9" stroke-width="1.5" transform="rotate(28 663.4 182.1)"/>
<ellipse cx="666.9" cy="184.2" rx="2.4" ry="5.9" stroke-width="1.5" transform="rotate(28 666.9 184.2)"/>
<ellipse cx="670.4" cy="186.3" rx="2.4" ry="5.9" stroke-width="1.5" transform="rotate(28 670.4 186.3)"/>
<ellipse cx="673.9" cy="188.4" rx="2.4" ry="5.9" stroke-width="1.5" transform="rotate(28 673.9 188.4)"/>
<ellipse cx="677.4" cy="190.6" rx="2.4" ry="7" stroke-width="1.5" transform="rotate(28 677.4 190.6)"/>
<ellipse cx="678.2" cy="190.9" rx="4.4" ry="7.4" stroke-width="1.4" transform="rotate(28 678.2 190.9)"/>
<path d="M559.5 194.7L568.8 190.7L705 265L731 251" stroke-dasharray="45 3 2 3"/>
<circle cx="837.2" cy="89.1" r="7.4" fill="#fff"/>
<text x="837.2" y="94" font-size="13.7" text-anchor="middle" fill="#1a1a1a" stroke="#1a1a1a" stroke-width="0.3">A</text>
<circle cx="837.1" cy="89.1" r="7.2"/>
<path d="M837.2 97L837.2 126"/>
<path d="M808.8 146L832.2 134.6" stroke="#555" stroke-width="4.2" stroke-linecap="butt"/>
<ellipse cx="809.8" cy="145.6" rx="0.9" ry="2.3" fill="#aaa" stroke="#1a1a1a" stroke-width="1.1" transform="rotate(-26.2 809.8 145.6)"/>
<ellipse cx="811.8" cy="144.6" rx="0.9" ry="2.3" fill="#aaa" stroke="#1a1a1a" stroke-width="1.1" transform="rotate(-26.2 811.8 144.6)"/>
<ellipse cx="813.7" cy="143.7" rx="0.9" ry="2.3" fill="#aaa" stroke="#1a1a1a" stroke-width="1.1" transform="rotate(-26.2 813.7 143.7)"/>
<ellipse cx="815.7" cy="142.7" rx="0.9" ry="2.3" fill="#aaa" stroke="#1a1a1a" stroke-width="1.1" transform="rotate(-26.2 815.7 142.7)"/>
<ellipse cx="817.6" cy="141.7" rx="0.9" ry="2.3" fill="#aaa" stroke="#1a1a1a" stroke-width="1.1" transform="rotate(-26.2 817.6 141.7)"/>
<ellipse cx="819.5" cy="140.8" rx="0.9" ry="2.3" fill="#aaa" stroke="#1a1a1a" stroke-width="1.1" transform="rotate(-26.2 819.5 140.8)"/>
<ellipse cx="821.5" cy="139.8" rx="0.9" ry="2.3" fill="#aaa" stroke="#1a1a1a" stroke-width="1.1" transform="rotate(-26.2 821.5 139.8)"/>
<ellipse cx="823.4" cy="138.9" rx="0.9" ry="2.3" fill="#aaa" stroke="#1a1a1a" stroke-width="1.1" transform="rotate(-26.2 823.4 138.9)"/>
<ellipse cx="825.4" cy="137.9" rx="0.9" ry="2.3" fill="#aaa" stroke="#1a1a1a" stroke-width="1.1" transform="rotate(-26.2 825.4 137.9)"/>
<ellipse cx="827.3" cy="137" rx="0.9" ry="2.3" fill="#aaa" stroke="#1a1a1a" stroke-width="1.1" transform="rotate(-26.2 827.3 137)"/>
<ellipse cx="829.3" cy="136" rx="0.9" ry="2.3" fill="#aaa" stroke="#1a1a1a" stroke-width="1.1" transform="rotate(-26.2 829.3 136)"/>
<ellipse cx="831.2" cy="135.1" rx="0.9" ry="2.3" fill="#aaa" stroke="#1a1a1a" stroke-width="1.1" transform="rotate(-26.2 831.2 135.1)"/>
<path d="M831.5 131.9C827.5 133.9 811.4 141.6 807.2 144C803.1 146.4 806.4 145.5 806.6 146.3C806.7 147.1 808 148.2 808.3 148.6L833.5 136.9"/>
<path d="M830.2 130.1L833.5 126.7L839.6 126.7L843 130.8L842.3 134.8L838.3 138.2L833.5 136.9Z" fill="#fff"/>
<ellipse cx="833.9" cy="132.4" rx="2.7" ry="4.9" fill="#fff" transform="rotate(-25 833.9 132.4)"/>
<path d="M837.6 128.4L838.9 133.5L838.3 138.2M838.9 133.5L842.6 132.8" stroke-width="1"/>
<path d="M706.6 83L732.8 67.5L735 67.5L780.4 93.4L780.7 100L754.2 114L752.3 114L706.6 89.7Z"/>
<path d="M706.6 83L708.4 84.5L753.1 108.1L754.9 108.1L780.4 93.7"/>
<path d="M753.8 108.5L753.8 114" stroke-width="0.9"/>
<ellipse cx="723.2" cy="78.1" rx="3.1" ry="2.4"/>
<path d="M721.3 79C721.7 78.7 722.4 77.3 723.2 77.1C724 77 725.5 77.9 726 78.1"/>
<ellipse cx="761" cy="99.3" rx="3.1" ry="2.4"/>
<path d="M759.2 100.2C759.5 99.9 760.2 98.5 761 98.3C761.8 98.2 763.3 99.1 763.8 99.3"/>
<path d="M721.3 96.5L737.9 101.1" stroke-width="1.5"/>
<ellipse cx="761" cy="70.7" rx="4.4" ry="2.6"/>
<path d="M761 73.4L761 84.5" stroke-width="2.6" stroke="#1c1c1c" stroke-dasharray="1.25 0.5" stroke-linecap="butt"/>
<path d="M758.6 72.5L763.4 72.5L761.9 74.4L760.1 74.4Z" fill="#333"/>
<path d="M765.6 84.5L771.1 87.3"/>
<path d="M705.7 116.8L726 105.7L776.7 127.8L775.7 133.4L754.5 145.4L705.7 122.3Z"/>
<path d="M709.4 117.7L726.9 108.8L772.6 129.1L754.5 139.8Z"/>
<path d="M706.6 121.4L753.6 143.1" stroke-width="2.4"/>
<path d="M727.8 122.3L739.8 116.8L763.8 127.8L763.8 132.5L752.7 138L727.8 126.9Z"/>
<path d="M727.8 126.9L732.4 124.2L753.6 134.3L752.7 138"/>
<path d="M739.8 116.8L739.8 121.4L732.4 124.2"/>
<path d="M739.8 125.1C740.4 125.2 741.2 125.1 743.5 126C745.8 126.9 751.9 129.8 753.6 130.6"/>
<ellipse cx="722.3" cy="114" rx="5.9" ry="4.1"/>
<ellipse cx="721.3" cy="112.5" rx="2.8" ry="1.8"/>
<ellipse cx="761" cy="133.4" rx="2.6" ry="2.2"/>
<path d="M714.9 127.3L714.9 136.1L725 141.7L726 149L738.9 155.5L750.9 150.9L751.8 144.4"/>
<path d="M725 141.7L726.9 134.3"/>
<path d="M738.9 155.5L738.3 148.1L726.9 142.6"/>
<path d="M751.8 143.5L775.7 133.4" stroke-width="1.8"/>
<path d="M782.3 153.1C783.4 151.8 786 150.4 788.3 149C790.7 147.7 794.4 145.6 796.4 145C798.5 144.3 799 144.1 800.5 145C801.9 145.9 804 148 805.2 150.4C806.4 152.7 807.1 156.5 807.9 159.1C808.7 161.7 809.4 163.4 809.9 165.9C810.5 168.4 811.4 171.3 811.3 174C811.2 176.7 810.4 179.4 809.3 182.1C808.1 184.8 806.2 187.9 804.5 190.2C802.8 192.4 800.9 194.2 799.1 195.6C797.3 196.9 795.6 197.8 793.7 198.3C791.8 198.7 789.5 199 787.7 198.3C785.9 197.5 784.1 195.3 782.9 193.5C781.8 191.7 781.1 189.4 780.9 187.5C780.7 185.6 780.7 184.3 781.6 182.1C782.5 179.8 785.1 176.4 786.3 174C787.5 171.5 788.4 169 789 167.2C789.6 165.4 790.4 164.3 789.7 163.2C789 162.1 786.3 161.6 785 160.5C783.6 159.4 782 157.7 781.6 156.4C781.1 155.2 781.1 154.3 782.3 153.1Z"/>
<path d="M793.7 155.8C794.2 156.8 795.5 159.8 796.4 161.8C797.3 163.9 797.6 166.6 799.1 167.9C800.7 169.3 804.3 168.9 805.9 169.9C807.5 171 808.4 173.5 808.8 174.2"/>
<path d="M789.7 163.2C790.6 162.7 793.3 161.2 795.1 160.5C796.9 159.8 798.9 158.9 800.5 159.1C802.1 159.4 803.4 162.1 804.5 162.1C805.7 162.1 807 159.9 807.5 159.4"/>
<path d="M782.9 182.7C784.1 183.3 787.4 184.9 789.7 186.1C791.9 187.4 794.9 188.6 796.4 190.2C798 191.7 798.7 194.7 799.1 195.6"/>
<path d="M800.5 190.2C801.4 189.3 804.7 186.8 805.9 184.8C807 182.7 807.2 179.1 807.5 178"/>
<ellipse cx="788.6" cy="157.1" rx="2.7" ry="3.2" transform="rotate(-20 788.6 157.1)"/>
<ellipse cx="789" cy="190.2" rx="2.7" ry="3.2" transform="rotate(-20 789 190.2)"/>
<path d="M790.4 187.5C790.6 187.9 791.7 189.3 791.7 190.2C791.7 191.1 790.6 192.4 790.4 192.9"/>
<path d="M790 154.4C790.2 154.9 791.3 156.2 791.3 157.1C791.3 158 790.2 159.4 790 159.8"/>
<path d="M700.7 183.3L729.3 167.7L777.2 192.6L749.6 208.2Z"/>
<path d="M704.8 184.3L729.3 171.3L772.6 193.5L750.5 204.5Z"/>
<path d="M700.7 183.3L699.8 213.8L748.7 235.9L749.6 208.2"/>
<path d="M777.2 192.6L778.2 224.8"/>
<path d="M778.2 224.8C777.9 225.7 778 228.8 776.3 230.4C774.6 232 772.6 233.5 768 234.4C763.4 235.3 751.9 235.6 748.7 235.9"/>
<path d="M705.3 187.6L718.2 193.5M727.5 199L747.7 207.3" stroke-width="0.8"/>
<path d="M757.9 195.3L753.3 201.8L756 203.6" stroke-width="1"/>
<ellipse cx="760.6" cy="198.6" rx="1.5" ry="1.1"/>
<ellipse cx="708.1" cy="171.3" rx="8.5" ry="5.5"/>
<ellipse cx="708.6" cy="171.7" rx="5.5" ry="3.5"/>
<ellipse cx="709.4" cy="172.8" rx="3" ry="1.8"/>
<path d="M699.6 171.7L699.8 184.3"/>
<path d="M716.6 172.3L716.6 175"/>
<path d="M719.2 175L729.3 169.5"/>
<ellipse cx="739.4" cy="164.9" rx="6.6" ry="4.8"/>
<ellipse cx="739.4" cy="164.9" rx="4.4" ry="3"/>
<ellipse cx="739.4" cy="179.6" rx="7.4" ry="5.5"/>
<ellipse cx="739.4" cy="179.1" rx="4.4" ry="3.1"/>
<path d="M731.1 165.8L731.1 192.6"/>
<path d="M724.7 171.3L724.7 189.4"/>
<path d="M713.6 179.6L714.5 187"/>
<path d="M747.4 167.7L755.1 176.9"/>
<path d="M720.1 176L722.8 176.9L721 179.1" stroke-width="1.5"/>
<path d="M699.4 190.7C697.8 191.5 692 193.3 689.6 195.3C687.3 197.3 685.8 201.5 685 202.7C682.3 203.6 671.8 206.4 668.4 208.2C665.1 210.1 665.2 211.6 664.8 213.8C664.3 215.9 665.5 219.9 665.7 221.1L674 225.7C677.7 224.9 691.2 221.2 696.1 220.4C701 219.6 702.2 221 703.5 221.1"/>
<path d="M665.7 223L665.7 230.4L677.7 235.9C680.7 235 691.5 232.4 696.1 230.4C700.7 228.3 703.8 224.5 705.3 223.4"/>
<ellipse cx="673.1" cy="213.8" rx="2.4" ry="2"/>
<path d="M674 225.2L702 221.1" stroke-width="2.2"/>
<path d="M665.7 221.1L674 223.4" stroke-width="2"/>
<path d="M689.6 201.8L696.1 204.5"/>
<path d="M681.3 221.1L703.5 218.4"/>
<path d="M705.3 223.9C705.3 225.6 704.1 231.7 705.3 234C706.6 236.4 709 236.7 712.7 237.7C716.4 238.8 725 240 727.5 240.5"/>
<path d="M713.6 225.2L714.5 236.8"/>
<ellipse cx="735.7" cy="247.9" rx="6.6" ry="9.6" transform="rotate(-10 735.7 247.9)"/>
<ellipse cx="736.3" cy="248.4" rx="3.7" ry="5.9" stroke-width="3" stroke="#444" transform="rotate(-10 736.3 248.4)"/>
<path d="M729.3 240.5C730.5 240 733.9 238.4 736.7 237.7C739.4 237 744.4 236.5 745.9 236.3"/>
<path d="M733.9 257.5C735.9 257.6 741.4 258.9 745.9 258.4C750.3 257.9 756.3 256.9 760.6 254.7C764.9 252.6 769.1 249.2 771.7 245.5C774.3 241.7 775.6 234.4 776.3 232.2"/>
<path d="M753.3 237.7C754.2 239.1 757.6 243.2 758.8 246C760 248.9 760.3 253.3 760.6 254.7"/>
<path d="M674 147.7L674 182.4"/>
<!-- 50_hose.py -->
<circle cx="478.4" cy="288.8" r="7.6" fill="#fff"/>
<text x="478.4" y="293.7" font-size="13.7" text-anchor="middle" fill="#1a1a1a" stroke="#1a1a1a" stroke-width="0.3">B</text>
<circle cx="478.4" cy="288.8" r="7.4"/>
<path d="M478.4 281.1L478.4 248.2"/>
<path d="M494.7 233.1L508.3 225.2" stroke="#555" stroke-width="8.5" stroke-linecap="butt"/>
<ellipse cx="495.8" cy="232.4" rx="1.8" ry="4.6" fill="#bbb" stroke="#1a1a1a" stroke-width="1.6" transform="rotate(-30.2 495.8 232.4)"/>
<ellipse cx="498.1" cy="231.1" rx="1.8" ry="4.6" fill="#bbb" stroke="#1a1a1a" stroke-width="1.6" transform="rotate(-30.2 498.1 231.1)"/>
<ellipse cx="500.4" cy="229.8" rx="1.8" ry="4.6" fill="#bbb" stroke="#1a1a1a" stroke-width="1.6" transform="rotate(-30.2 500.4 229.8)"/>
<ellipse cx="502.6" cy="228.5" rx="1.8" ry="4.6" fill="#bbb" stroke="#1a1a1a" stroke-width="1.6" transform="rotate(-30.2 502.6 228.5)"/>
<ellipse cx="504.9" cy="227.2" rx="1.8" ry="4.6" fill="#bbb" stroke="#1a1a1a" stroke-width="1.6" transform="rotate(-30.2 504.9 227.2)"/>
<ellipse cx="507.2" cy="225.8" rx="1.8" ry="4.6" fill="#bbb" stroke="#1a1a1a" stroke-width="1.6" transform="rotate(-30.2 507.2 225.8)"/>
<path d="M492.3 229.4C494.6 227.9 503.2 221.5 506.1 220.2C509 218.9 508.7 220.5 509.4 221.5C510.2 222.5 510.8 224.7 510.7 226.1C510.6 227.5 509.2 229.2 508.9 229.8L495.4 237.5"/>
<path d="M472.9 235.3C473.7 232.9 476.4 230.9 478.4 229.8C480.4 228.7 483.1 228.4 484.9 228.9C486.7 229.3 488.6 230.6 489.5 232.6C490.4 234.6 491 238.5 490.4 240.9C489.8 243.2 487.8 245.2 485.8 246.4C483.8 247.6 480.4 248.5 478.4 248.2C476.4 247.9 474.8 246.7 473.8 244.5C472.9 242.4 472.1 237.8 472.9 235.3Z" fill="#fff"/>
<ellipse cx="477.1" cy="240.5" rx="4.4" ry="5.9" transform="rotate(-20 477.1 240.5)"/>
<ellipse cx="477.1" cy="240.5" rx="2.8" ry="4.1" transform="rotate(-20 477.1 240.5)"/>
<path d="M482.1 229.4C482.9 230.1 485.8 231.6 486.7 233.5C487.7 235.4 488.1 238.7 487.7 240.9C487.2 243 484.6 245.5 484 246.4"/>
<path d="M490.4 233.5L494.1 231.6M490.4 240.9L495 238.1"/>
<ellipse cx="518.6" cy="217.8" rx="6.3" ry="8.5" stroke-width="1.3" transform="rotate(-28 518.6 217.8)"/>
<ellipse cx="518.6" cy="217.8" rx="2.8" ry="4.1" stroke-width="1.3" transform="rotate(-28 518.6 217.8)"/>
<ellipse cx="519.6" cy="218.2" rx="5.5" ry="7.7" stroke-width="0.7" transform="rotate(-28 519.6 218.2)"/>
<ellipse cx="551.3" cy="198.4" rx="6.3" ry="8.5" stroke-width="1.3" transform="rotate(-28 551.3 198.4)"/>
<ellipse cx="551.3" cy="198.4" rx="2.8" ry="4.1" stroke-width="1.3" transform="rotate(-28 551.3 198.4)"/>
<ellipse cx="552.2" cy="198.8" rx="5.5" ry="7.7" stroke-width="0.7" transform="rotate(-28 552.2 198.8)"/>
<path d="M522.7 205.8C523.6 204.9 526.1 201.5 528.2 200.3C530.4 199.1 533.3 198.1 535.6 198.4C537.9 198.7 540.5 200.3 542.1 202.1C543.6 204 545 207.4 544.8 209.5C544.7 211.7 542.4 214 541.1 215C539.9 216.1 538.1 215.8 537.5 216"/>
<path d="M522.7 205.8C522.9 207 522.7 210.9 523.6 213.2C524.5 215.5 526.7 218.4 528.2 219.6C529.8 220.9 531.3 221.6 532.8 220.9C534.4 220.3 536.7 216.8 537.5 216"/>
<ellipse cx="530.1" cy="211.7" rx="4.8" ry="7.4" transform="rotate(-28 530.1 211.7)"/>
<path d="M528.6 205.8C529.2 206.6 531.6 208.6 532.3 210.4C533 212.3 532.7 215.8 532.8 216.9"/>
<path d="M539.3 214.1L541.1 219.1"/>
<path d="M543.9 211.3L546.7 216.5"/>
<path d="M540.2 223.3C540.5 222.6 541 219.9 542.1 218.7C543.1 217.6 544.7 216.4 546.7 216.5C548.7 216.7 551.7 217.7 554 219.6C556.4 221.6 559.4 226.6 560.5 227.9L552.2 237.5L545.7 233.8Z"/>
<path d="M543.9 228.3C545 227.6 548.4 224.8 550.4 224.3C552.4 223.7 555 225 555.9 225.2" stroke-width="2.2"/>
<path d="M546.3 232.6C547.3 231.8 550.1 229 552.2 228.3C554.3 227.6 557.6 228.3 558.7 228.3" stroke-width="1.2"/>
<circle cx="657.7" cy="370.6" r="7.6" fill="#fff"/>
<text x="657.7" y="375.6" font-size="13.7" text-anchor="middle" fill="#1a1a1a" stroke="#1a1a1a" stroke-width="0.3">2</text>
<circle cx="657.6" cy="370.6" r="7.4"/>
<path d="M649.9 370.6L600.9 370.3"/>
<ellipse cx="600.9" cy="370.3" rx="0.6" ry="0.6" fill="#222"/>
<path d="M617.1 286.9L634.4 288L639.6 292.8L635.9 299.6L618.9 317.2L650.3 315.3L651.9 318.6L630.4 331.2L616.3 319.4L618.9 317.2" stroke-width="3"/>
<path d="M617.1 286.9L634.4 288L639.6 292.8L635.9 299.6L618.9 317.2L650.3 315.3L651.9 318.6L630.4 331.2L616.3 319.4L618.9 317.2" stroke-width="0.9" stroke="#fff"/>
<path d="M619.3 279.4C621.1 278.3 627.6 273.8 630.4 272.9C633.1 272 634.7 272.9 635.9 273.8C637.1 274.8 638.4 277.1 637.7 278.4C637.1 279.8 633.7 280.9 632.2 282.1C630.7 283.4 629.1 285.2 628.5 285.8"/>
<path d="M614.7 287.7L614.7 307.9L620.2 308.9L621.1 289.5"/>
<path d="M617.5 290.4L617.5 307"/>
<path d="M623 287.7C623.1 288.6 623.3 292.1 623.9 293.2C624.5 294.3 626.1 294.9 626.7 294.1C627.3 293.3 627.4 289.5 627.6 288.6"/>
<path d="M629.4 277.5L632.2 277" stroke-width="2"/>
<path d="M607.3 396.7C607.2 398.1 605.3 403 606.4 405C607.5 407 611 408.7 613.8 408.7C616.5 408.7 621.1 406.9 623 405C624.8 403.2 625.4 399.8 624.8 397.7C624.2 395.5 620.2 393.1 619.3 392.1"/>
<path d="M612.8 411.5C613 412.7 612.4 417 613.8 418.9C615.1 420.7 618.4 422.6 621.1 422.6C623.9 422.6 629 420.7 630.4 418.9C631.7 417 630.4 413.6 629.4 411.5C628.5 409.3 625.6 406.9 624.8 406"/>
<path d="M607.3 397.7C608.4 398.1 611.8 401.2 613.8 400.4C615.8 399.7 618.4 394.3 619.3 393.1"/>
<path d="M607.3 404.1C608.4 404.7 611 407.8 613.8 407.8C616.5 407.8 622.2 404.7 623.9 404.1"/>
<path d="M613.4 412.4C614.7 412.9 618.5 415.3 621.1 415.2C623.8 415 628.1 412.1 629.4 411.5"/>
<path d="M610.1 444.7C610.7 444.9 613.5 445.4 613.8 446C614 446.6 611.9 448 611.6 448.4" stroke-width="0.8"/>
<path d="M637.7 406.9C638.7 405.3 642 398.6 643.3 397.7C644.6 396.7 645.1 400.7 645.5 401.3C645.9 402.3 647 405.3 647.9 406.9C648.7 408.4 650.2 410 650.6 410.6L659.9 403.2C663.2 404.9 674.6 411.3 680.1 413.3C685.7 415.3 690.1 414.1 693.1 415.2C696 416.3 697.4 418.1 697.7 419.8C698 421.5 695.4 424.4 694.9 425.3L683.8 429.9L667.2 421.6C665.2 422.9 658.5 428.2 655.3 429C652 429.8 649.1 426.7 647.9 426.2L640.5 416.1Z"/>
<path d="M643.3 402.3L642.3 412.4L648.8 417L650.6 410.6"/>
<path d="M648.8 417L652.5 426.2"/>
<path d="M659.9 403.2L663.6 409.6L662.6 420.7L667.2 421.6"/>
<path d="M680.1 413.3L676.5 419.8L683.8 429.9"/>
<path d="M663.6 409.6L676.5 416.1"/>
<ellipse cx="686.6" cy="419.8" rx="3" ry="2.4"/>
<path d="M685.3 420.7C685.6 420.3 686.5 418.5 687.2 418.3C687.8 418.1 689 419.2 689.4 419.4"/>
<path d="M686.6 432.7L686.6 435.6" stroke-width="1"/>
<path d="M686.6 439.7L686.6 458.5" stroke-width="3.6" stroke="#1c1c1c" stroke-linecap="butt" stroke-dasharray="1.25 0.5"/>
<path d="M684.6 439.7L684.6 459.4M688.6 439.7L688.6 459.4"/>
<path d="M684.6 439.7C684.9 439.5 685.9 438.2 686.6 438.2C687.3 438.2 688.3 439.5 688.6 439.7"/>
<path d="M681.1 460.4L692.1 460.4L693.1 465L689.4 468.7L683.8 468.7L680.5 465Z" fill="#fff"/>
<path d="M681.1 460.4L682 458.1L691.2 458.1L692.1 460.4"/>
<path d="M683.8 468.7L684.2 465L689 465L689.4 468.7"/>
<path d="M490.8 429.5L507 436.9" stroke="#555" stroke-width="4.8" stroke-linecap="butt"/>
<ellipse cx="492" cy="430" rx="1" ry="2.6" fill="#aaa" stroke="#1a1a1a" stroke-width="1.2" transform="rotate(24.4 492 430)"/>
<ellipse cx="494.3" cy="431.1" rx="1" ry="2.6" fill="#aaa" stroke="#1a1a1a" stroke-width="1.2" transform="rotate(24.4 494.3 431.1)"/>
<ellipse cx="496.6" cy="432.1" rx="1" ry="2.6" fill="#aaa" stroke="#1a1a1a" stroke-width="1.2" transform="rotate(24.4 496.6 432.1)"/>
<ellipse cx="498.9" cy="433.2" rx="1" ry="2.6" fill="#aaa" stroke="#1a1a1a" stroke-width="1.2" transform="rotate(24.4 498.9 433.2)"/>
<ellipse cx="501.2" cy="434.2" rx="1" ry="2.6" fill="#aaa" stroke="#1a1a1a" stroke-width="1.2" transform="rotate(24.4 501.2 434.2)"/>
<ellipse cx="503.6" cy="435.3" rx="1" ry="2.6" fill="#aaa" stroke="#1a1a1a" stroke-width="1.2" transform="rotate(24.4 503.6 435.3)"/>
<ellipse cx="505.9" cy="436.4" rx="1" ry="2.6" fill="#aaa" stroke="#1a1a1a" stroke-width="1.2" transform="rotate(24.4 505.9 436.4)"/>
<path d="M489.9 425.8C493 427.2 505.1 432.3 508.3 434.1C511.6 436 509.4 436 509.3 436.9C509.1 437.8 507.7 439.2 507.4 439.6L488.1 432.8"/>
<ellipse cx="484.4" cy="427.7" rx="4.1" ry="5.5" fill="#fff" transform="rotate(22 484.4 427.7)"/>
<ellipse cx="488.6" cy="429.5" rx="2.6" ry="4.4" fill="#fff" transform="rotate(22 488.6 429.5)"/>
<ellipse cx="483.4" cy="427.3" rx="2.2" ry="3.3" transform="rotate(22 483.4 427.3)"/>
<path d="M510.2 439.6L519.4 444.3" stroke-dasharray="4 2"/>
<path d="M515.7 448.9L528.6 443.3L536.9 444.3L536 449.8L533.2 455.3L538.8 454.4L548 447.9L552.6 445.2L555.4 449.8L555.4 464.5L551.7 468.2L538.8 472.8L534.2 471L518.5 478.4L509.3 471L510.2 460.9Z"/>
<path d="M515.7 448.9L520.3 455.3L525.9 459.9L536 449.8"/>
<path d="M525.9 459.9L521.2 476.5"/>
<path d="M528.6 443.3L529.5 453.5"/>
<path d="M538.8 454.4L536 471"/>
<path d="M540.6 459L540.6 468.2L546.1 469.2"/>
<path d="M546.1 458.1L554.4 458.1L554.4 467.3L546.1 467.3Z" stroke-width="1.6"/>
<ellipse cx="550.2" cy="462.7" rx="2" ry="2.4" stroke-width="1.8"/>
<path d="M538.8 455.3L548 452.6" stroke-width="2"/>
<path d="M522.2 471.9L524 464.5" stroke-width="0.8"/>
<path d="M563.1 512.8C564.5 513.4 568.7 516.4 571.4 516.5C574.2 516.6 578.3 513.8 579.7 513.2"/>
<path d="M563.1 514.9C563 519.3 561.9 532.3 562.1 541.8C562.3 551.3 563.8 566.8 564.2 571.8"/>
<path d="M579.3 515.9C579.2 520.2 578.6 532.8 578.7 541.8C578.7 550.8 579.5 565.1 579.7 569.7"/>
<path d="M563.1 572.9C564.5 573.4 568.6 576.4 571.4 576C574.3 575.5 578.7 571.3 580.1 570.4" stroke-width="2"/>
<path d="M562.7 576.6C564.2 577.2 568.5 580.4 571.4 580.1C574.3 579.8 578.7 575.4 580.1 574.5"/>
<path d="M562.7 579.1C564.2 579.7 568.6 582.8 571.4 582.6C574.3 582.4 578.3 578.8 579.7 578"/>
<path d="M563.1 572.9L562.7 579.1M580.1 570.4L579.7 578"/>
<path d="M566.2 582.2L564.2 587.4M576.6 581.1L578.7 587.4"/>
<ellipse cx="571.4" cy="596.1" rx="9.9" ry="10.8"/>
<ellipse cx="569.4" cy="597.7" rx="4.6" ry="5.8"/>
<path d="M564.2 593.6C564.9 593.2 566.8 591.5 568.3 591.5C569.9 591.5 572.6 593.2 573.5 593.6"/>
<ellipse cx="553.4" cy="605" rx="7" ry="9.1" stroke-width="1.3" transform="rotate(-28 553.4 605)"/>
<ellipse cx="553.4" cy="605" rx="3.1" ry="4.3" stroke-width="1.3" transform="rotate(-28 553.4 605)"/>
<ellipse cx="554.2" cy="605.4" rx="6.2" ry="8.3" stroke-width="0.7" transform="rotate(-28 554.2 605.4)"/>
<ellipse cx="592.8" cy="583.2" rx="7" ry="9.1" stroke-width="1.3" transform="rotate(-28 592.8 583.2)"/>
<ellipse cx="592.8" cy="583.2" rx="3.1" ry="4.3" stroke-width="1.3" transform="rotate(-28 592.8 583.2)"/>
<ellipse cx="593.6" cy="583.6" rx="6.2" ry="8.3" stroke-width="0.7" transform="rotate(-28 593.6 583.6)"/>
<path d="M625.4 554.3L631.6 551.9L635.7 552.6L639.9 558.8L639.9 565L636.4 568.8L633.3 573L625.4 565.7Z" fill="#fff"/>
<path d="M631.6 551.9L633.7 558.8L634.5 568.1M635.7 552.6L639.2 559.5L639.9 565" stroke-width="1"/>
<ellipse cx="626.6" cy="564.9" rx="6.4" ry="10.4" fill="#fff" transform="rotate(-25 626.6 564.9)"/>
<path d="M607.1 575.7L623.7 567.8" stroke="#555" stroke-width="9.4" stroke-linecap="butt"/>
<ellipse cx="608.1" cy="575.2" rx="2" ry="5.1" fill="#bbb" stroke="#1a1a1a" stroke-width="1.5" transform="rotate(-25.6 608.1 575.2)"/>
<ellipse cx="610.2" cy="574.2" rx="2" ry="5.1" fill="#bbb" stroke="#1a1a1a" stroke-width="1.5" transform="rotate(-25.6 610.2 574.2)"/>
<ellipse cx="612.3" cy="573.2" rx="2" ry="5.1" fill="#bbb" stroke="#1a1a1a" stroke-width="1.5" transform="rotate(-25.6 612.3 573.2)"/>
<ellipse cx="614.3" cy="572.3" rx="2" ry="5.1" fill="#bbb" stroke="#1a1a1a" stroke-width="1.5" transform="rotate(-25.6 614.3 572.3)"/>
<ellipse cx="616.4" cy="571.3" rx="2" ry="5.1" fill="#bbb" stroke="#1a1a1a" stroke-width="1.5" transform="rotate(-25.6 616.4 571.3)"/>
<ellipse cx="618.5" cy="570.3" rx="2" ry="5.1" fill="#bbb" stroke="#1a1a1a" stroke-width="1.5" transform="rotate(-25.6 618.5 570.3)"/>
<ellipse cx="620.5" cy="569.3" rx="2" ry="5.1" fill="#bbb" stroke="#1a1a1a" stroke-width="1.5" transform="rotate(-25.6 620.5 569.3)"/>
<ellipse cx="622.6" cy="568.3" rx="2" ry="5.1" fill="#bbb" stroke="#1a1a1a" stroke-width="1.5" transform="rotate(-25.6 622.6 568.3)"/>
<path d="M604 571.6L620.7 563.6M606.2 581.6L625.4 572.1"/>
<ellipse cx="604.7" cy="576.8" rx="2.9" ry="5.2" fill="#fff" transform="rotate(-25 604.7 576.8)"/>
<path d="M604.3 576.4C604.5 576.2 604.9 575.5 605.4 575.4C605.8 575.3 606.8 575.7 607.1 575.7M605.4 578.1L607.8 576.9" stroke-width="1"/>
<ellipse cx="627.5" cy="565.7" rx="4.3" ry="7" fill="#fff" transform="rotate(-25 627.5 565.7)"/>
<path d="M640.8 561.5L678.1 561.5"/>
<circle cx="685.8" cy="561.9" r="7.6" fill="#fff"/>
<text x="685.8" y="566.8" font-size="13.7" text-anchor="middle" fill="#1a1a1a" stroke="#1a1a1a" stroke-width="0.3">B</text>
<circle cx="685.8" cy="561.9" r="7.4"/>
<path d="M560.5 227.9C562.2 229.4 567.1 233.1 570.6 237.1C574.1 241.1 578.5 246.8 581.7 251.9C584.9 257.1 587.7 262.8 590 268C592.3 273.2 594.1 277.7 595.5 283C596.9 288.3 598 294.7 598.5 300C599 305.3 598.9 310 598.5 315C598.1 320 596.5 325.3 596.2 330C596 334.7 596.2 339.2 597 343C597.8 346.8 599 348.5 601 353C603 357.5 606.4 365 609 370C611.6 375 614.8 379.3 616.5 383C618.2 386.7 618.8 390.5 619.3 392"/>
<path d="M550.3 239C551.8 240.5 556.7 244.7 559.5 248.2C562.3 251.7 564.8 255.9 567 260C569.2 264.1 571.2 268.3 573 273C574.8 277.7 576.7 282.5 577.8 288C578.9 293.5 579.6 300.2 579.6 306C579.6 311.8 578.1 317.5 578 323C577.9 328.5 577.7 332.9 578.7 339C579.7 345.1 582.3 354.2 584.2 359.5C586.1 364.8 587.5 366.8 590 371C592.5 375.2 596.1 380.7 599 385C601.9 389.3 605.9 394.8 607.3 396.7"/>
<path d="M615.6 422.5C616 423.9 618.1 427.6 618.3 430.8C618.4 434 618.2 438.8 616.5 441.9C614.8 445 612 446.5 608.2 449.3C604.4 452.1 598.4 454.8 593.5 458.5C588.6 462.2 582.7 467.1 578.7 471.4C574.7 475.7 571.8 479.5 569.5 484.3C567.2 489.1 565.9 495.2 564.8 500C563.7 504.8 563.4 510.7 563.1 512.8"/>
<path d="M630.3 418.8C631.2 420.5 635.1 425.5 635.9 429C636.7 432.5 636.4 436.3 634.9 440C633.4 443.7 630.1 447.4 626.6 451.1C623.1 454.8 618 458.5 613.7 462.2C609.4 465.9 604.7 468.9 600.8 473.2C596.9 477.5 593.3 483.1 590.5 488C587.7 492.9 585.8 498.3 584 502.4C582.2 506.5 580.4 511.1 579.7 512.8"/>
<!-- 60_table.py -->
<rect x="567.7" y="627" width="27.3" height="25.8" fill="#111" stroke="none"/>
<circle cx="581.6" cy="640.6" r="11.3" fill="#fff" stroke="none"/>
<rect x="576.2" y="627.5" width="11.2" height="11.5" fill="#111" stroke="none"/>
<circle cx="581.8" cy="639" r="5.6" fill="#111" stroke="none"/>
<path d="M568.7 667L568.7 657L836 657L836 667" stroke-width="2" stroke="#111" stroke-linejoin="miter" stroke-linecap="butt"/>
<path d="M635.2 657L635.2 667M702.3 657L702.3 667M769.2 657L769.2 667" stroke-width="1.3" stroke="#111"/>
<text x="601" y="674.8" font-size="16" text-anchor="middle" font-weight="bold" fill="#111" stroke="none">ITEM</text>
<text x="666.5" y="674.8" font-size="16" text-anchor="middle" font-weight="bold" fill="#111" stroke="none">N·m</text>
<text x="733.6" y="674.8" font-size="16" text-anchor="middle" font-weight="bold" fill="#111" stroke="none">kg-m</text>
<text x="801.5" y="674.8" font-size="16" text-anchor="middle" font-weight="bold" fill="#111" stroke="none">lb-ft</text>
</svg>
</body></html>
